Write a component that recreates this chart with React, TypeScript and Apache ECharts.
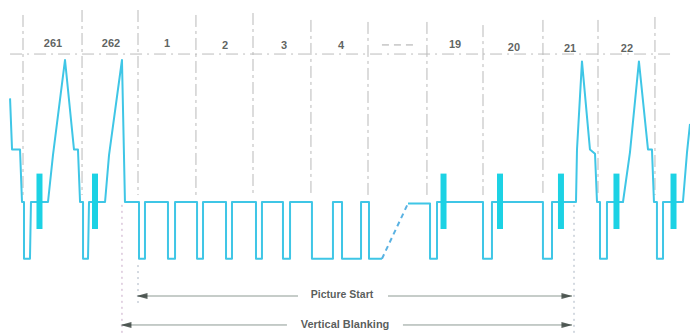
import React, { useEffect, useRef } from "react";
import * as echarts from "echarts";

// x: time in microseconds (line 1 starts at 0, one line = 63.5 us, lines 5..18 omitted)
// y: level in IRE (blanking 0, sync tip -40, peak white 100)

const waveLeft: [number, number][] = [
  [-141.3, 73], [-139.1, 37], [-130.3, 37], [-128.1, 0], [-125.9, 0], [-125.9, -40], [-119.3, -40], [-118.2, 0],
  [-99.4, 0], [-93.9, 33], [-80.6, 100], [-70.7, 37], [-66.3, 37], [-64.0, 0], [-60.7, 0], [-60.7, -40],
  [-55.2, -40], [-54.1, 0], [-36.4, 0], [-32.0, 33], [-17.7, 100], [-14.4, 0], [1.1, 0],
  [1.1, -40], [7.7, -40], [7.7, 0], [33.1, 0], [33.1, -40], [40.9, -40], [40.9, 0],
  [65.2, 0], [65.2, -40], [71.8, -40], [71.8, 0], [97.2, 0], [97.2, -40], [103.8, -40], [103.8, 0],
  [130.3, 0], [130.3, -40], [136.9, -40], [136.9, 0], [160.1, 0], [160.1, -40], [167.9, -40], [167.9, 0],
  [192.1, 0], [192.1, -40], [215.3, -40], [215.3, 0], [225.3, 0], [225.3, -40], [246.3, -40], [246.3, 0],
  [255.1, 0], [255.1, -40], [269.4, -40],
];

const waveBreak: [number, number][] = [[269.4, -40], [298.2, -1]];

const waveRight: [number, number][] = [
  [298.2, -1], [322.5, -1], [322.5, -40], [330.2, -40], [330.2, 0], [381.0, 0], [381.0, -40], [390.9, -40],
  [390.9, 0], [447.2, 0], [447.2, -40], [457.2, -40], [457.2, 0], [483.7, 0], [484.8, 37], [490.3, 99],
  [499.1, 37], [504.7, 34], [506.9, 0], [510.2, 0], [510.2, -40], [517.9, -40], [517.9, 0], [535.6, 0],
  [543.3, 35], [553.2, 99], [563.2, 37], [567.6, 37], [569.8, 0], [573.1, 0], [573.1, -40], [579.8, -40],
  [579.8, 0], [601.8, 0], [606.3, 35], [609.6, 55],
];

const burstCenters = [-108.8, -47.5, 337.4, 399.8, 467.1, 528.4, 591.4];
const burstTop = 20;
const burstBottom = -19;

const lineMarks = [-127.0, -61.8, 0, 64.0, 127.0, 191.0, 254.0, 319.1, 381.0, 447.2, 508.0, 570.9];
const lineMarkTops = [131.7, 135.2, 135.2, 131.7, 133.1, 128.2, 126.8, 126.8, 124.6, 128.2, 128.2, 130.3];
const lineMarkBottom = 4.9;

const lineNames = ["261", "262", "1", "2", "3", "4", "19", "20", "21", "22"];
const lineNameX = [-93.9, -29.8, 32.0, 96.1, 161.2, 224.2, 350.1, 415.2, 477.1, 540.0];
const lineNameY = [112.0, 112.0, 112.0, 110.6, 110.6, 110.6, 111.3, 109.2, 108.4, 108.4];

const headerLine: [number, number][] = [[-141.3, 104.2], [589.7, 104.2]];
const ellipsisLine: [number, number][] = [[269.4, 110.6], [305.9, 110.6]];

const blankStartMark: [number, number][] = [[-17.7, -2], [-17.7, -93.6]];
const pictureStartMark: [number, number][] = [[0, -44.4], [0, -71.1]];
const endMark: [number, number][] = [[481.5, -2], [481.5, -93.6]];

const picY = -66.2;
const vbY = -86.6;
const picArrowL: [number, number][] = [[0, picY], [176.7, picY]];
const picArrowR: [number, number][] = [[276.1, picY], [479.3, picY]];
const vbArrowL: [number, number][] = [[-17.7, vbY], [164.5, vbY]];
const vbArrowR: [number, number][] = [[292.6, vbY], [479.3, vbY]];
const arrowHeadsLeft: [number, number][] = [[4.4, picY], [-13.3, vbY]];
const arrowHeadsRight: [number, number][] = [[473.7, picY], [473.7, vbY]];

const captions = ["Picture Start", "Vertical Blanking"];
const captionX = [225.3, 228.6];
const captionY = [-64.8, -85.9];
const captionSize = [10.5, 11];

const WAVE = "#3fc6e6";

export default function App() {
  const ref = useRef<HTMLDivElement>(null);
  useEffect(() => {
    if (!ref.current) return;
    const chart = echarts.init(ref.current, undefined, { renderer: "svg" });
    const simpleLine = (data: [number, number][], color: string, width: number, type: any) => ({
      type: "line",
      data,
      symbol: "none",
      silent: true,
      lineStyle: { color, width, type },
      z: 1,
    });
    const series: any[] = [];
    // guide lines
    lineMarks.forEach((t, i) => {
      series.push(simpleLine([[t, lineMarkTops[i]], [t, lineMarkBottom]], "#b9b9b9", 1, [12, 4, 3, 4]));
    });
    series.push(simpleLine(headerLine, "#bcbcbc", 1, [12, 5, 2, 5]));
    series.push(simpleLine(ellipsisLine, "#a8a8a8", 1, [7, 5]));
    series.push(simpleLine(blankStartMark, "#c7a9c7", 1, [2, 4]));
    series.push(simpleLine(pictureStartMark, "#a9b4c2", 1, [2, 4]));
    series.push(simpleLine(endMark, "#a9b4c2", 1, [2, 4]));
    // arrows
    [picArrowL, picArrowR, vbArrowL, vbArrowR].forEach((d) => series.push(simpleLine(d, "#8d9a93", 1, "solid")));
    series.push({
      type: "scatter",
      data: arrowHeadsLeft,
      symbol: "triangle",
      symbolSize: [6, 11],
      symbolRotate: 90,
      itemStyle: { color: "#2f3a35" },
      silent: true,
      z: 3,
    });
    series.push({
      type: "scatter",
      data: arrowHeadsRight,
      symbol: "triangle",
      symbolSize: [6, 11],
      symbolRotate: -90,
      itemStyle: { color: "#2f3a35" },
      silent: true,
      z: 3,
    });
    // waveform
    series.push({ ...simpleLine(waveLeft, WAVE, 2, "solid"), z: 4, lineStyle: { color: WAVE, width: 2, join: "round" } });
    series.push({ ...simpleLine(waveBreak, "#5ab2e2", 2, [5, 4]), z: 4 });
    series.push({ ...simpleLine(waveRight, WAVE, 2, "solid"), z: 4, lineStyle: { color: WAVE, width: 2, join: "round" } });
    // color bursts
    series.push({
      type: "custom",
      coordinateSystem: "cartesian2d",
      data: burstCenters.map((c) => [c, burstTop, burstBottom]),
      encode: { x: 0, y: [1, 2] },
      silent: true,
      z: 5,
      renderItem: (params: any, api: any) => {
        const x = api.value(0);
        const p1 = api.coord([x, api.value(1)]);
        const p2 = api.coord([x, api.value(2)]);
        const w = 6;
        return {
          type: "rect",
          shape: { x: p1[0] - w / 2, y: p1[1], width: w, height: p2[1] - p1[1] },
          style: { fill: "#1cd2e4" },
        };
      },
    });
    // line numbers
    series.push({
      type: "scatter",
      data: lineNames.map((n, i) => ({ name: n, value: [lineNameX[i], lineNameY[i]] })),
      symbolSize: 1,
      itemStyle: { color: "transparent" },
      silent: true,
      z: 6,
      label: {
        show: true,
        position: "inside",
        formatter: "{b}",
        color: "#353a37",
        fontSize: 11,
        fontWeight: "bold",
        fontFamily: "Liberation Sans, Arial, sans-serif",
      },
    });
    captions.forEach((n, i) => {
      series.push({
        type: "scatter",
        data: [{ name: n, value: [captionX[i], captionY[i]] }],
        symbolSize: 1,
        itemStyle: { color: "transparent" },
        silent: true,
        z: 6,
        label: {
          show: true,
          position: "inside",
          formatter: "{b}",
          color: "#2e3330",
          fontSize: captionSize[i],
          fontWeight: "bold",
          fontFamily: "Liberation Sans, Arial, sans-serif",
        },
      });
    });
    chart.setOption({
      animation: false,
      backgroundColor: "#ffffff",
      grid: { left: 0, right: 0, top: 0, bottom: 0 },
      xAxis: {
        type: "value",
        min: -152.4,
        max: 609.6,
        show: false,
      },
      yAxis: {
        type: "value",
        min: -93.66,
        max: 142.25,
        show: false,
      },
      series,
    });
    return () => chart.dispose();
  }, []);
  return (
    <div
      ref={ref}
      style={{ position: "fixed", left: 0, top: 0, width: 690, height: 335, background: "#fff" }}
    />
  );
}
